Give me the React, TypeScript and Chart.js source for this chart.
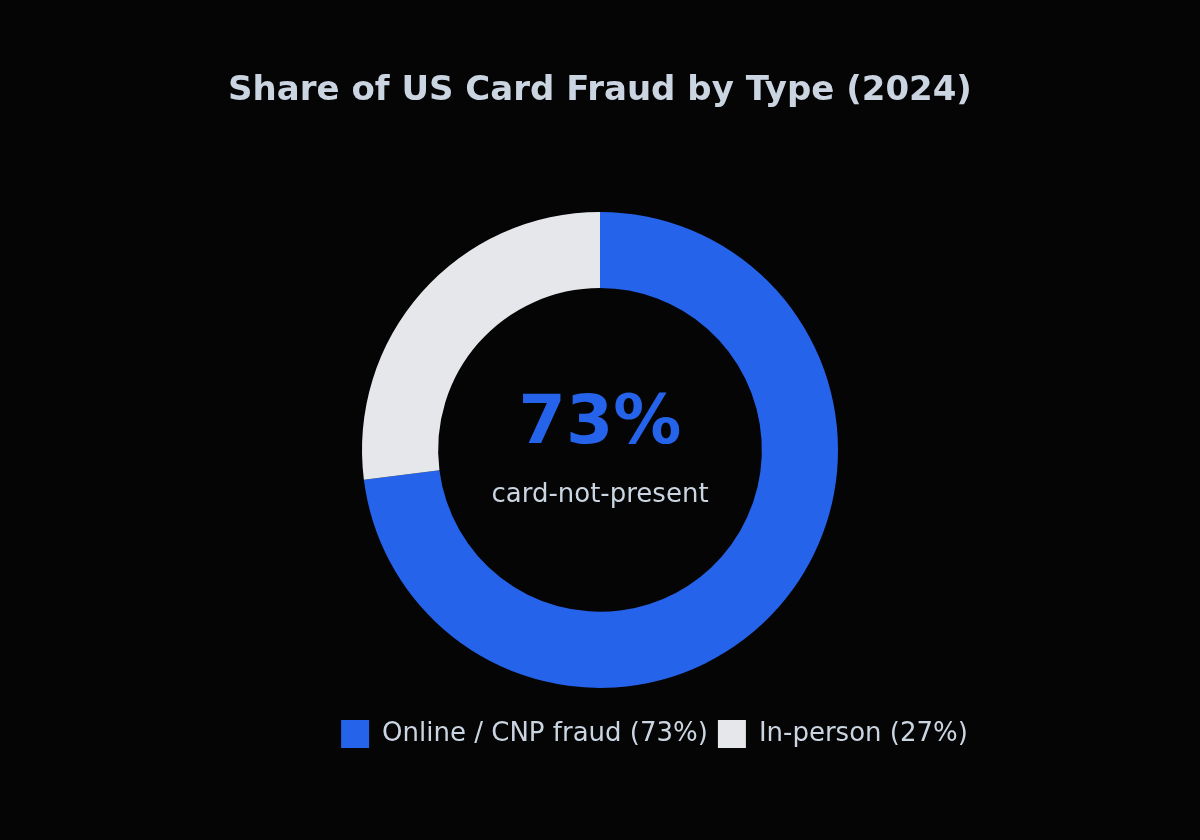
import React, { useRef, useEffect } from 'react';
import Chart from 'chart.js/auto';

// 데이터
const labels = ['Online / CNP fraud (73%)', 'In-person (27%)'];
const shares = [73, 27];
const colors = ['#2563eb', '#e5e7eb'];
const centerLabel = 'card-not-present';

const BG = '#050505';
const TEXT = '#cbd5e1';
const FONT = "'DejaVu Sans', sans-serif";

// 도넛 가운데 텍스트
const centerText = {
  id: 'centerText',
  afterDraw(chart: any) {
    const meta = chart.getDatasetMeta(0);
    if (!meta.data.length) return;
    const { x, y } = meta.data[0];
    const ctx = chart.ctx;
    ctx.save();
    ctx.textAlign = 'center';
    ctx.textBaseline = 'middle';
    ctx.fillStyle = colors[0];
    ctx.font = `bold 68px ${FONT}`;
    ctx.fillText(`${shares[0]}%`, x, y - 25);
    ctx.fillStyle = TEXT;
    ctx.font = `26px ${FONT}`;
    ctx.fillText(centerLabel, x, y + 45);
    ctx.restore();
  },
};

// 범례를 오른쪽으로 살짝 이동
const shiftLegend = {
  id: 'shiftLegend',
  afterLayout(chart: any) {
    if (chart.legend) chart.legend.left += 109;
  },
};

const App: React.FC = () => {
  const canvasRef = useRef<HTMLCanvasElement>(null);

  useEffect(() => {
    document.body.style.margin = '0';
    document.body.style.background = BG;
    if (!canvasRef.current) return;

    const chart = new Chart(canvasRef.current, {
      type: 'doughnut',
      data: {
        labels,
        datasets: [{
          data: shares,
          backgroundColor: colors,
          borderWidth: 0,
        }],
      },
      options: {
        responsive: false,
        animation: false,
        radius: 238,
        cutout: '68%',
        layout: { padding: { top: 0, bottom: 82 } },
        plugins: {
          title: {
            display: true,
            text: 'Share of US Card Fraud by Type (2024)',
            color: TEXT,
            font: { family: FONT, size: 34, weight: 'bold' },
            padding: { top: 71, bottom: 78 },
          },
          legend: {
            position: 'bottom',
            labels: {
              color: TEXT,
              font: { family: FONT, size: 26 },
              boxWidth: 28,
              boxHeight: 28,
              padding: 10,
            },
          },
          tooltip: { enabled: false },
        },
      } as any,
      plugins: [centerText, shiftLegend],
    });

    return () => chart.destroy();
  }, []);

  return (
    <div style={{ width: 1200, height: 840, background: BG }}>
      <canvas ref={canvasRef} width={1200} height={840} />
    </div>
  );
};

export default App;
